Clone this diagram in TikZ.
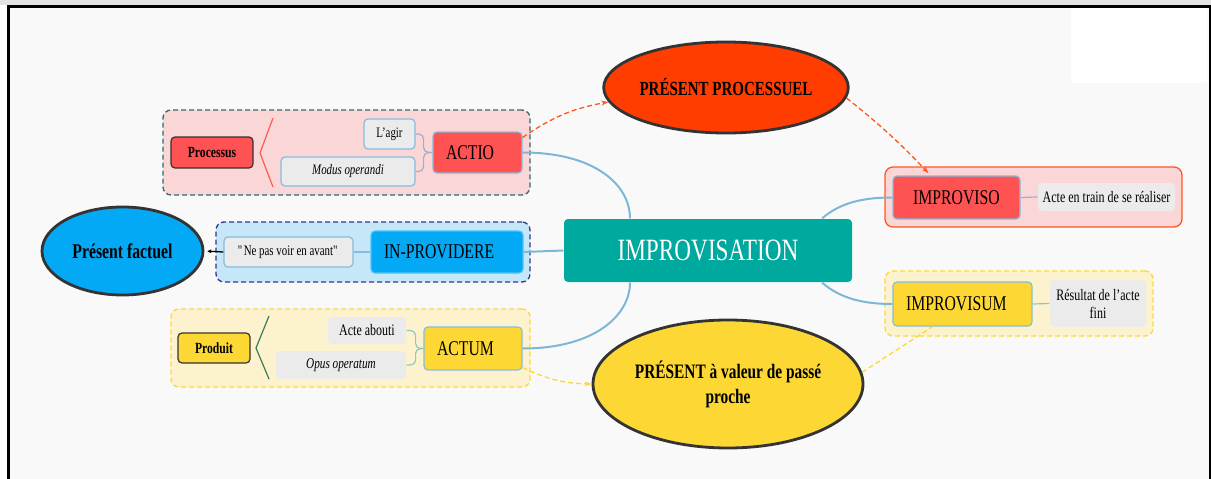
\documentclass[tikz,border=0pt]{standalone}
\usepackage{fontspec}
\setmainfont{Liberation Serif}[FakeStretch=0.75]
\usetikzlibrary{shapes.geometric,arrows.meta}

\definecolor{bggray}{HTML}{F9F9F9}
\definecolor{topgray}{HTML}{E2E2E2}
\definecolor{nodered}{HTML}{FF5252}
\definecolor{ovalred}{HTML}{FF3D00}
\definecolor{pinkfill}{HTML}{FAD6D6}
\definecolor{tealdash}{HTML}{2E6B6B}
\definecolor{framered}{HTML}{FF5722}
\definecolor{nodeblue}{HTML}{03A9F4}
\definecolor{bluefill}{HTML}{C6E7F7}
\definecolor{navydash}{HTML}{2B3990}
\definecolor{nodeyellow}{HTML}{FDD835}
\definecolor{yellowfill}{HTML}{FDF2CE}
\definecolor{dashyellow}{HTML}{FDD835}
\definecolor{centreteal}{HTML}{00A99D}
\definecolor{subgray}{HTML}{EBEBEB}
\definecolor{edgeblue}{HTML}{86BCE0}
\definecolor{ringgray}{HTML}{333333}
\definecolor{branchblue}{HTML}{7DB7D8}
\definecolor{twigblue}{HTML}{9DB0C8}
\definecolor{twigteal}{HTML}{8FC7C7}
\definecolor{bracketred}{HTML}{FF5A5A}
\definecolor{bracketgreen}{HTML}{3D7A5A}

\begin{document}
\begin{tikzpicture}[x=1pt,y=-1pt,
    box/.style={rectangle,rounded corners=4pt,inner sep=0pt,line width=1.2pt},
    mainbox/.style={box,draw=edgeblue,font=\fontsize{21}{24}\selectfont},
    leftpad/.style={inner xsep=13pt,align=left,text width=#1},
    subbox/.style={box,fill=subgray,font=\fontsize{14.5}{18}\selectfont},
    tagbox/.style={box,draw=ringgray,font=\bfseries\fontsize{15.5}{18}\selectfont},
    groupbox/.style={rectangle,rounded corners=8pt,line width=1.3pt,inner sep=0pt},
    bubble/.style={ellipse,draw=ringgray,line width=2.8pt,align=center,inner sep=0pt,
        font=\bfseries\fontsize{20}{25}\selectfont},
    branch/.style={draw=branchblue,line width=2pt},
    twig/.style={line width=1.2pt,rounded corners=5pt},
    dashline/.style={dash pattern=on 5pt off 3pt,line width=1.3pt},
    dasharrow/.style={dashline,-{Stealth[length=7pt,width=5pt]}}]

\useasboundingbox (0,0) rectangle (1211,479);
\fill[topgray] (0,0) rectangle (1211,5);
\fill[bggray] (8,5) rectangle (1211,479);
\fill[white] (1071,8) rectangle (1207,83);
\draw[line width=3.5pt] (7,6.5) -- (1211,6.5);
\draw[line width=3pt] (8.5,5) -- (8.5,479);
\draw[line width=2pt] (1210,5) -- (1210,479);

\node[groupbox,draw=tealdash,dashline,fill=pinkfill,
    minimum width=367pt,minimum height=85pt] (actiogroup) at (346.5,152.5) {};
\node[groupbox,draw=navydash,dashline,fill=bluefill,
    minimum width=314pt,minimum height=60pt] (inprovgroup) at (373,252) {};
\node[groupbox,draw=dashyellow,dashline,fill=yellowfill,
    minimum width=359pt,minimum height=78pt] (actumgroup) at (350.5,348) {};
\node[groupbox,draw=framered,fill=pinkfill,
    minimum width=297pt,minimum height=60pt] (improvisogroup) at (1033.5,197) {};
\node[groupbox,draw=dashyellow,dashline,fill=yellowfill,
    minimum width=268pt,minimum height=65pt] (improvisumgroup) at (1019,303.5) {};

\node[box,fill=centreteal,text=white,font=\fontsize{31}{34}\selectfont,
    minimum width=288pt,minimum height=63pt] (centre) at (708,250.5) {IMPROVISATION};

\node[bubble,fill=ovalred,minimum width=238pt,minimum height=91pt] (processuel) at (726,87.5) {PRÉSENT PROCESSUEL};
\node[bubble,fill=nodeblue,minimum width=161pt,minimum height=88pt,font=\bfseries\fontsize{21}{25}\selectfont] (factuel) at (122.5,251) {Présent factuel};
\node[bubble,fill=nodeyellow,minimum width=270pt,minimum height=128pt,font=\bfseries\fontsize{20.5}{25}\selectfont] (passe) at (728,384) {PRÉSENT à valeur de passé\\proche};

\node[tagbox,fill=nodered,minimum width=82pt,minimum height=31pt] (processus) at (212,152.5) {Processus};
\node[subbox,draw=edgeblue,minimum width=51pt,minimum height=30pt] (agir) at (389.5,134) {L'agir};
\node[subbox,draw=edgeblue,minimum width=134pt,minimum height=29pt] (modus) at (348,171.5) {\itshape Modus operandi};
\node[mainbox,leftpad=63pt,fill=nodered,minimum height=41pt] (actio) at (477.5,152.5) {ACTIO};

\node[subbox,draw=edgeblue,minimum width=129pt,minimum height=30pt] (nepas) at (288.5,252) {\textquotedbl Ne pas voir en avant\textquotedbl};
\node[mainbox,leftpad=126pt,draw=nodeblue!70,fill=nodeblue,minimum height=42pt] (inprov) at (447,252) {IN-PROVIDERE};

\node[tagbox,fill=nodeyellow,minimum width=72pt,minimum height=30pt] (produit) at (214,348) {Produit};
\node[subbox,minimum width=78pt,minimum height=27pt,font=\fontsize{16}{18}\selectfont] (abouti) at (367,330.5) {Acte abouti};
\node[subbox,minimum width=130pt,minimum height=28pt,font=\itshape\fontsize{15}{18}\selectfont] (opus) at (341,365) {Opus operatum};
\node[mainbox,leftpad=72pt,fill=nodeyellow,minimum height=43pt] (actum) at (473,348.5) {ACTUM};

\node[mainbox,fill=nodered,minimum width=127pt,minimum height=43pt] (improviso) at (956.5,197.5) {IMPROVISO};
\node[subbox,minimum width=137pt,minimum height=28pt,font=\fontsize{16}{18}\selectfont] (entrain) at (1106.5,197) {Acte en train de se réaliser};
\node[mainbox,leftpad=113pt,fill=nodeyellow,minimum height=44pt] (improvisum) at (962.5,304) {IMPROVISUM};
\node[subbox,align=center,minimum width=96pt,minimum height=47pt,font=\fontsize{16}{18}\selectfont] (resultat) at (1098,303.5) {Résultat de l'acte\\fini};

\draw[branch] (actio.east) .. controls (595,152.5) and (630,185) .. ([xshift=-78pt]centre.north);
\draw[branch] (actum.east) .. controls (595,348.5) and (630,315) .. ([xshift=-78pt]centre.south);
\draw[branch] (inprov.east) -- (centre.west);
\draw[branch] ([xshift=114pt]centre.north) .. controls (840,203) and (862,197.5) .. (improviso.west);
\draw[branch] ([xshift=114pt]centre.south) .. controls (840,298) and (862,304) .. (improvisum.west);

\draw[twig,draw=twigblue] (agir.east) -- ++(8,0) |- (actio.west);
\draw[twig,draw=twigblue] (modus.east) -- ++(8,0) |- (actio.west);
\draw[twig,draw=twigteal] (abouti.east) -- ++(9,0) |- (actum.west);
\draw[twig,draw=twigteal] (opus.east) -- ++(9,0) |- (actum.west);
\draw[twig,draw=edgeblue] (nepas.east) -- (inprov.west);
\draw[twig,draw=twigblue] (improviso.east) -- (entrain.west);
\draw[twig,draw=twigteal] (improvisum.east) -- (resultat.west);
\draw[line width=1.3pt,-{Stealth[length=4pt,width=4pt]},shorten >=3pt] (nepas.west) -- (factuel.east);

\draw[line width=1.2pt,draw=bracketred] (273,118) -- (260,153) -- (273,187);
\draw[line width=1.2pt,draw=bracketgreen] (269,316) -- (256,348) -- (269,379);

\draw[dasharrow,draw=framered] ([yshift=15pt]actio.east) to[bend left=12] (processuel.187);
\draw[dasharrow,draw=framered,shorten >=3pt] (processuel.355) to[bend left=4] ([xshift=-26pt]improviso.north);
\draw[dasharrow,draw=dashyellow] ([yshift=3pt]actum.south east) to[bend right=12] (passe.west);
\draw[dashline,draw=dashyellow] (passe.5) -- ([xshift=-30pt]improvisum.south);

\end{tikzpicture}
\end{document}
